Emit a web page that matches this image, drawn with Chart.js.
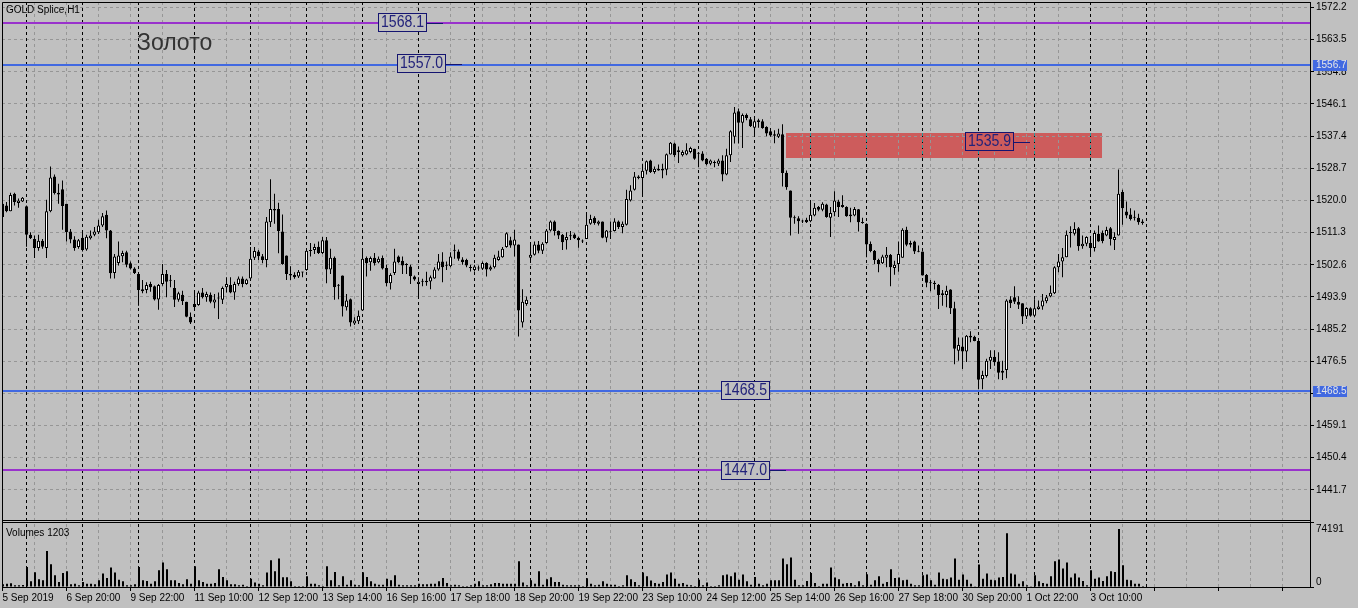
<!DOCTYPE html>
<html>
<head>
<meta charset="utf-8">
<script src="https://cdn.jsdelivr.net/npm/chart.js@4.4.1/dist/chart.umd.min.js"></script>
<style>
  html, body { margin: 0; padding: 0; background: #c0c0c0; }
  #wrap { width: 1358px; height: 608px; }
</style>
</head>
<body>
<div id="wrap"><canvas id="gold" width="1358" height="608"></canvas></div>
<script>
// GOLD Splice, H1 - one value per bar, bar index = position on the time axis
const opens = [
  1519.1,1518.6,1517.1,1521.8,1519.3,1519.7,1518.4,1510.7,1509.6,1507.1,1509.1,1507.1,1517.1,1526.5,1522.1,1523.0,1519.1,1511.6,1509.4,1507.4,
  1509.9,1506.7,1509.8,1510.7,1511.4,1513.2,1516.1,1511.9,1500.4,1503.1,1504.9,1506.0,1503.0,1501.6,1500.1,1496.0,1495.8,1497.4,1496.8,1493.2,
  1497.4,1500.1,1498.3,1496.3,1493.1,1494.5,1492.6,1488.5,1492.0,1491.7,1495.1,1493.8,1494.5,1492.4,1493.5,1493.1,1496.5,1497.1,1495.1,1497.4,
  1498.9,1497.4,1498.9,1504.5,1506.2,1504.9,1503.9,1514.1,1517.7,1517.7,1511.6,1505.1,1500.1,1499.9,1499.4,1500.6,1501.2,1506.3,1506.6,1507.5,
  1505.8,1509.2,1501.3,1504.5,1497.0,1499.7,1491.1,1493.3,1486.7,1487.3,1490.2,1504.4,1503.3,1504.5,1503.3,1504.4,1501.7,1497.6,1500.4,1504.8,
  1503.7,1502.6,1502.1,1499.4,1497.4,1498.0,1497.9,1498.1,1498.9,1501.3,1503.5,1502.4,1502.2,1506.4,1506.2,1504.0,1503.9,1501.8,1501.2,1501.6,
  1501.5,1503.1,1501.3,1501.9,1503.9,1504.6,1507.4,1509.2,1507.8,1508.1,1487.0,1492.0,1504.5,1505.3,1508.1,1506.4,1508.5,1511.9,1514.3,1511.7,
  1510.7,1509.2,1510.3,1510.8,1509.9,1509.0,1509.6,1513.7,1515.3,1513.7,1514.3,1509.9,1511.6,1511.7,1514.3,1512.8,1513.4,1520.0,1522.9,1526.1,
  1526.1,1528.0,1530.8,1527.7,1528.6,1528.6,1528.3,1532.4,1535.4,1533.6,1532.2,1532.4,1533.1,1534.0,1532.7,1532.7,1531.3,1529.9,1530.2,1529.9,
  1530.8,1527.0,1532.2,1537.2,1544.1,1541.0,1543.1,1542.0,1539.7,1541.7,1541.4,1539.9,1538.7,1537.9,1537.2,1537.9,1527.5,1522.7,1515.3,1515.2,
  1514.4,1514.8,1514.4,1515.9,1518.2,1517.5,1518.9,1515.3,1516.8,1519.7,1518.2,1518.2,1516.2,1515.9,1517.6,1513.9,1513.7,1508.2,1506.4,1503.9,
  1503.0,1504.5,1505.3,1501.7,1502.8,1504.5,1512.1,1508.0,1508.9,1506.2,1506.2,1499.8,1497.7,1497.7,1497.2,1494.9,1494.4,1495.9,1490.8,1479.3,
  1480.5,1479.1,1482.9,1483.1,1482.0,1471.6,1472.5,1476.6,1477.7,1476.4,1473.4,1474.1,1493.2,1493.8,1492.6,1492.2,1488.6,1490.8,1488.8,1490.6,
  1491.3,1492.7,1494.0,1494.9,1501.9,1503.5,1504.6,1511.2,1511.0,1512.5,1507.6,1508.3,1508.5,1507.1,1511.0,1511.2,1510.5,1512.5,1509.3,1510.5,
  1522.3,1517.0,1516.2,1515.3,1515.3,1514.3
];
const highs = [
  1519.6,1519.6,1522.1,1522.1,1520.5,1520.9,1518.6,1511.4,1510.5,1510.7,1509.6,1520.2,1529.2,1527.0,1524.5,1525.4,1519.1,1512.3,1510.3,1509.6,
  1511.9,1510.7,1511.9,1512.8,1514.8,1516.6,1517.3,1512.0,1505.5,1508.9,1506.4,1506.4,1503.5,1501.9,1500.3,1498.5,1497.9,1498.0,1497.0,1497.4,
  1502.8,1501.2,1499.8,1498.5,1495.3,1495.6,1492.6,1489.7,1495.3,1495.6,1496.3,1495.3,1495.1,1494.7,1495.1,1496.7,1499.2,1499.2,1498.0,1499.4,
  1499.4,1498.8,1507.4,1507.4,1506.6,1505.5,1515.5,1525.7,1521.8,1519.4,1516.2,1505.1,1502.2,1500.6,1501.2,1500.7,1506.6,1508.5,1508.3,1508.9,
  1510.1,1510.1,1506.9,1504.8,1497.4,1499.7,1494.7,1493.5,1488.4,1490.2,1506.9,1504.8,1504.8,1505.8,1504.8,1505.1,1502.6,1500.3,1506.9,1505.1,
  1504.8,1503.0,1502.6,1499.7,1499.2,1498.8,1500.7,1499.7,1501.9,1505.5,1506.0,1503.5,1506.0,1508.1,1506.7,1504.6,1504.2,1502.6,1502.6,1502.4,
  1503.5,1503.3,1502.4,1505.3,1506.4,1507.4,1511.4,1510.2,1512.1,1508.1,1496.0,1494.0,1508.7,1508.9,1509.0,1508.7,1512.3,1514.6,1514.6,1511.9,
  1510.9,1511.4,1511.7,1511.1,1510.2,1509.4,1516.7,1516.1,1515.7,1514.6,1514.3,1512.0,1514.3,1515.2,1514.6,1514.3,1522.9,1524.1,1527.7,1526.8,
  1529.9,1530.8,1531.0,1529.2,1529.7,1529.9,1532.7,1535.8,1535.6,1534.6,1533.6,1535.5,1534.5,1534.0,1533.1,1533.3,1531.5,1531.1,1530.8,1531.3,
  1532.2,1534.0,1539.0,1545.3,1544.9,1543.5,1543.5,1542.6,1542.1,1542.1,1542.0,1540.1,1539.6,1539.0,1539.4,1540.6,1528.1,1522.7,1515.9,1515.7,
  1514.8,1515.3,1520.0,1519.3,1518.5,1519.5,1519.1,1518.2,1522.5,1520.2,1521.4,1518.4,1518.0,1518.2,1517.7,1515.3,1513.8,1508.9,1506.6,1504.2,
  1505.3,1507.4,1505.5,1503.7,1508.9,1512.5,1512.9,1509.1,1509.1,1507.8,1506.2,1500.1,1498.5,1498.3,1497.4,1495.8,1496.9,1496.0,1492.6,1482.9,
  1482.9,1483.6,1484.6,1483.4,1482.0,1473.9,1477.2,1479.5,1479.5,1478.9,1476.6,1493.3,1494.1,1496.8,1494.1,1492.2,1491.1,1491.1,1493.3,1492.9,
  1494.7,1494.4,1497.0,1502.2,1505.5,1507.1,1511.9,1513.0,1514.1,1512.8,1510.5,1510.3,1509.9,1511.9,1513.2,1511.9,1512.9,1512.8,1511.4,1528.4,
  1522.9,1519.7,1517.9,1517.3,1516.4,1514.9
];
const lows = [
  1515.0,1516.8,1517.1,1518.6,1518.0,1519.6,1507.5,1509.6,1504.4,1506.4,1506.9,1504.4,1516.8,1521.6,1519.1,1512.1,1508.9,1508.4,1506.4,1506.9,
  1506.2,1506.4,1509.4,1510.3,1510.9,1512.8,1509.8,1498.9,1498.9,1502.4,1503.3,1501.9,1501.3,1500.1,1491.5,1494.9,1494.9,1495.3,1492.9,1490.4,
  1496.9,1493.8,1496.5,1491.2,1492.6,1491.7,1488.4,1486.6,1490.2,1491.5,1493.5,1492.6,1492.2,1490.8,1487.9,1492.0,1495.1,1494.9,1493.1,1496.9,
  1496.5,1497.2,1498.3,1503.9,1503.9,1503.0,1501.9,1512.8,1513.7,1505.7,1502.6,1498.5,1498.5,1498.8,1499.0,1499.2,1501.0,1504.8,1505.5,1505.5,
  1505.5,1497.6,1500.1,1493.1,1493.3,1488.6,1490.2,1485.9,1486.3,1486.6,1490.2,1499.4,1501.0,1502.4,1503.0,1501.3,1496.8,1495.9,1499.8,1503.0,
  1500.1,1500.1,1497.4,1498.3,1494.0,1496.8,1496.9,1496.0,1498.8,1501.0,1497.9,1501.2,1501.9,1504.2,1503.7,1502.6,1501.9,1500.8,1500.8,1501.0,
  1501.2,1499.4,1501.0,1501.6,1503.7,1504.5,1507.2,1507.2,1504.8,1483.2,1485.6,1491.5,1503.1,1505.1,1505.7,1505.5,1508.3,1511.6,1510.5,1509.6,
  1506.6,1506.7,1509.3,1509.6,1507.2,1508.5,1509.6,1513.4,1513.4,1513.2,1509.8,1508.7,1509.6,1511.6,1512.3,1511.1,1513.2,1519.7,1522.7,1525.7,
  1520.9,1527.0,1527.4,1527.2,1528.0,1526.0,1526.8,1532.4,1531.7,1530.1,1531.9,1532.2,1532.8,1531.0,1529.0,1530.6,1529.5,1529.5,1529.0,1529.3,
  1525.2,1526.8,1530.4,1535.4,1535.4,1534.2,1541.7,1539.9,1537.4,1539.7,1539.4,1537.4,1537.2,1535.5,1536.9,1523.8,1522.9,1510.5,1513.7,1511.0,
  1513.9,1513.9,1514.1,1515.7,1517.1,1517.1,1515.3,1510.1,1515.7,1515.5,1518.0,1515.6,1514.1,1515.7,1511.6,1513.7,1504.6,1506.0,1502.8,1500.6,
  1502.8,1501.9,1496.8,1499.9,1500.7,1504.5,1507.6,1507.3,1505.5,1506.0,1499.7,1496.5,1495.4,1495.9,1490.6,1491.5,1491.1,1489.3,1475.7,1476.6,
  1474.4,1476.3,1481.6,1481.9,1468.9,1468.9,1472.1,1474.4,1475.3,1471.6,1471.4,1471.9,1490.9,1492.0,1490.6,1486.6,1487.9,1488.5,1488.4,1490.4,
  1490.4,1492.2,1493.8,1494.7,1500.6,1499.2,1504.6,1507.3,1510.5,1506.4,1506.9,1507.6,1504.8,1506.2,1508.8,1508.4,1510.3,1507.8,1506.6,1510.5,
  1513.4,1515.2,1514.6,1514.6,1513.4,1513.4
];
const closes = [
  1515.5,1517.1,1521.5,1519.6,1520.0,1520.7,1510.7,1509.8,1507.1,1509.1,1507.5,1517.1,1526.2,1522.0,1521.6,1518.5,1511.4,1509.4,1507.1,1509.2,
  1506.6,1510.2,1510.5,1511.6,1513.2,1515.7,1511.9,1500.3,1504.8,1505.1,1505.8,1502.6,1501.6,1500.4,1495.8,1495.4,1497.1,1496.5,1493.2,1497.1,
  1500.1,1498.0,1498.3,1493.1,1494.9,1492.7,1488.5,1487.0,1491.2,1495.1,1493.8,1494.7,1492.6,1493.2,1493.5,1496.3,1497.4,1495.1,1497.4,1498.9,
  1497.4,1498.6,1504.2,1506.3,1504.9,1503.9,1514.3,1517.7,1517.3,1511.7,1502.8,1500.1,1499.7,1499.2,1500.7,1500.5,1506.4,1506.6,1507.4,1505.8,
  1509.2,1501.3,1504.5,1496.5,1496.9,1491.3,1492.9,1487.0,1487.5,1488.8,1504.2,1503.0,1504.4,1503.0,1504.2,1501.6,1497.6,1499.8,1503.5,1503.3,
  1502.4,1502.5,1499.5,1498.6,1498.0,1498.1,1498.3,1499.2,1501.3,1503.5,1501.9,1502.3,1504.8,1506.5,1504.2,1503.3,1502.4,1501.7,1502.1,1501.7,
  1503.1,1501.3,1501.9,1504.5,1504.8,1506.9,1511.1,1507.8,1509.4,1490.2,1492.6,1493.1,1505.3,1508.1,1506.4,1508.3,1511.9,1514.3,1511.7,1510.5,
  1508.7,1510.1,1510.4,1509.8,1509.2,1508.9,1513.4,1515.0,1513.9,1514.3,1509.9,1511.9,1511.5,1514.3,1512.8,1513.7,1520.4,1522.7,1526.5,1526.5,
  1528.0,1530.6,1527.7,1528.6,1528.1,1528.1,1532.5,1535.6,1532.2,1533.1,1533.1,1533.6,1534.2,1531.3,1532.6,1530.8,1529.8,1530.8,1530.1,1530.8,
  1527.0,1532.2,1538.7,1543.8,1541.0,1543.1,1542.3,1540.1,1541.4,1541.2,1539.6,1538.1,1537.6,1537.5,1538.1,1527.4,1523.6,1515.3,1515.2,1514.4,
  1514.3,1514.1,1516.1,1518.0,1517.5,1519.1,1515.5,1516.6,1520.0,1518.2,1518.8,1515.7,1515.7,1517.7,1514.1,1513.9,1508.1,1506.3,1503.9,1502.8,
  1504.8,1505.3,1501.9,1502.6,1505.5,1512.1,1508.0,1508.5,1506.2,1506.1,1499.7,1497.7,1497.6,1497.4,1494.4,1494.4,1495.6,1490.8,1479.9,1480.9,
  1479.1,1483.4,1483.4,1482.0,1471.5,1472.8,1476.6,1477.7,1476.2,1473.4,1473.9,1492.9,1492.2,1492.6,1491.8,1488.6,1490.9,1488.8,1490.8,1491.3,
  1492.9,1493.8,1495.0,1501.9,1503.5,1504.6,1510.7,1511.3,1512.3,1507.6,1508.3,1510.1,1507.1,1511.2,1508.9,1509.0,1512.0,1509.6,1510.1,1521.8,
  1517.9,1515.9,1515.0,1515.3,1514.1,1513.9
];
const volumes = [
  3400,4300,4700,2100,2100,2600,25700,7300,18900,9900,8600,45900,29200,15000,6400,18000,20200,3400,4300,2100,
  6400,4300,4300,3400,8600,17200,11600,24900,18400,9400,7300,2100,2100,3400,25700,8600,7700,4300,7300,21500,
  31300,22700,8600,8600,5100,3400,9900,4300,26600,8600,6400,4300,4300,5100,22700,12900,8600,3400,3400,2100,
  3000,1300,10700,5600,4300,2100,18400,34300,20200,36500,12400,12400,7300,1300,1300,1300,13700,4300,4300,2100,
  1300,26600,8600,19300,2100,13700,3000,8600,3000,2100,18900,12900,7300,4300,3000,3000,10700,8600,15000,3000,
  2100,2100,2100,2100,4300,3400,3400,4300,4300,7300,11600,5100,2100,3000,2100,1300,1300,2100,4300,7300,
  2100,2100,3400,5100,5100,4300,4300,4300,4300,33000,5600,2100,8600,4300,20200,3000,9900,12400,6400,6400,
  3000,2100,2100,2100,2100,1300,11200,4300,2100,3000,7300,4300,3000,3000,1300,2100,15000,9900,6400,2100,
  18400,13700,8200,5100,4300,6400,15900,18400,10700,4300,5100,3000,2100,1300,9400,2100,5600,1300,1300,2100,
  15000,15900,13700,18400,9400,15900,7300,3000,12900,4300,2100,4300,8600,8600,8600,36500,29200,37800,9400,2100,
  2100,7700,18000,5100,1300,4300,4300,24900,12000,9900,4300,5100,5100,2100,7300,2100,16300,3000,8600,13700,
  4300,6400,22700,11600,12000,8600,9400,4300,2100,2100,15000,15900,8600,3000,18400,10700,9900,12000,36500,9400,
  15900,9400,4300,900,28700,10700,17200,9400,8600,12000,12900,68600,17200,15900,4300,7300,2100,900,15000,7300,
  5100,4300,13700,33000,35200,23600,31300,12000,17200,12000,7700,2100,21500,10700,12000,7700,13700,20200,19300,74191,
  27900,9400,8600,4300,4300,1203
];

// axis labels
const timeLabels = ['5 Sep 2019','6 Sep 20:00','9 Sep 22:00','11 Sep 10:00','12 Sep 12:00','13 Sep 14:00',
  '16 Sep 16:00','17 Sep 18:00','18 Sep 20:00','19 Sep 22:00','23 Sep 10:00','24 Sep 12:00',
  '25 Sep 14:00','26 Sep 16:00','27 Sep 18:00','30 Sep 20:00','1 Oct 22:00','3 Oct 10:00'];
const yTicks = [1441.7,1450.4,1459.1,1467.8,1476.5,1485.2,1493.9,1502.6,1511.3,1520.0,1528.7,1537.4,1546.1,1554.8,1563.5,1572.2];
const dayStarts = [6,20,34,48,62,76,90,104,118,132,146,160,174,188,202,216,230,244,258,272,286];

// chart objects
const levelPrices = [1568.1, 1556.7, 1468.5, 1447.0];
const levelColors = ['#9932cc', '#4169e1', '#4169e1', '#9932cc'];
const badgePrices = [1556.7, 1468.5];
const notePrices = [1568.1, 1557.0, 1535.9, 1468.5, 1447.0];
const noteBars   = [93.8, 98.7, 240.7, 179.7, 179.7];
const noteTails  = [true, true, true, false, true];
const zoneBars = [195.9, 274.95];
const zonePrices = [1531.5, 1538.2];

const FONT = '"Liberation Sans", Arial, sans-serif';
const xMin = -0.125, xMax = -0.125 + 1308 / 4;
const yMin = 1433.0, yMax = 1573.69;
const volMax = 83145;

const bars = opens.map((o, i) => i);
const gridBars = [];
for (let v = 0; v <= 320; v += 8) gridBars.push(v);

function noPad(s) {
  s.paddingTop = 0; s.paddingBottom = 0; s.paddingLeft = 0; s.paddingRight = 0;
}

function narrowText(ctx, txt, cx, cy, size, sx, color) {
  ctx.save();
  ctx.translate(cx, cy);
  ctx.scale(sx, 1);
  ctx.font = size + 'px ' + FONT;
  ctx.fillStyle = color;
  ctx.textAlign = 'center';
  ctx.textBaseline = 'middle';
  ctx.fillText(txt, 0, 0);
  ctx.restore();
}

const mtPlugin = {
  id: 'mt',
  beforeDraw(chart) {
    const {ctx, scales: {x, y}} = chart;
    // прямоугольник зоны
    const x1 = Math.round(x.getPixelForValue(zoneBars[0]));
    const x2 = Math.round(x.getPixelForValue(zoneBars[1]));
    const y1 = Math.round(y.getPixelForValue(zonePrices[1]));
    const y2 = Math.round(y.getPixelForValue(zonePrices[0]));
    ctx.save();
    ctx.fillStyle = '#cd5c5c';
    ctx.fillRect(x1, y1, x2 - x1, y2 - y1);
    ctx.restore();
  },
  beforeDatasetsDraw(chart) {
    const {ctx, chartArea: a, scales: {x, y}} = chart;
    const zx1 = x.getPixelForValue(zoneBars[0]), zx2 = x.getPixelForValue(zoneBars[1]);
    const zy1 = Math.round(y.getPixelForValue(zonePrices[1]));
    const zy2 = Math.round(y.getPixelForValue(zonePrices[0]));
    ctx.save();
    // period separators
    ctx.lineWidth = 1;
    ctx.setLineDash([3, 3]);
    dayStarts.forEach(b => {
      const px = Math.round(x.getPixelForValue(b) - 0.5) + 0.5;
      ctx.strokeStyle = '#000';
      ctx.beginPath();
      ctx.moveTo(px, a.top);
      ctx.lineTo(px, a.bottom);
      ctx.stroke();
      if (px > zx1 && px < zx2) {
        // over the filled zone the separator shows inverted
        ctx.strokeStyle = '#2a9a9a';
        ctx.beginPath();
        ctx.moveTo(px, zy1);
        ctx.lineTo(px, zy2);
        ctx.stroke();
      }
    });
    ctx.setLineDash([]);
    // horizontal levels
    ctx.lineWidth = 2;
    levelPrices.forEach((p, k) => {
      const py = Math.round(y.getPixelForValue(p));
      ctx.strokeStyle = levelColors[k];
      ctx.beginPath();
      ctx.moveTo(a.left, py);
      ctx.lineTo(a.right, py);
      ctx.stroke();
    });
    ctx.restore();
  },
  afterDraw(chart) {
    const {ctx, chartArea: a, scales: {x, y}} = chart;
    ctx.save();
    // price notes in boxes
    const zx1 = x.getPixelForValue(zoneBars[0]), zx2 = x.getPixelForValue(zoneBars[1]);
    const zy1 = y.getPixelForValue(zonePrices[1]), zy2 = y.getPixelForValue(zonePrices[0]);
    notePrices.forEach((p, k) => {
      const bx = Math.round(x.getPixelForValue(noteBars[k]));
      const cy = y.getPixelForValue(p);
      const by = Math.round(cy - 9.5);
      const inZone = bx > zx1 && bx < zx2 && cy > zy1 && cy < zy2;
      ctx.fillStyle = inZone ? '#cd5c5c' : '#c0c0c0';
      ctx.fillRect(bx, by, 49, 19);
      ctx.strokeStyle = '#141470';
      ctx.lineWidth = 1;
      ctx.strokeRect(bx + 0.5, by + 0.5, 48, 18);
      if (noteTails[k]) {
        ctx.beginPath();
        ctx.moveTo(bx + 49, Math.round(cy) + 0.5);
        ctx.lineTo(bx + 65, Math.round(cy) + 0.5);
        ctx.stroke();
      }
      narrowText(ctx, p.toFixed(1), bx + 24.5, by + 10, 16, 0.88, '#22227a');
    });

    // panel frames
    ctx.strokeStyle = '#000';
    ctx.lineWidth = 1;
    ctx.beginPath();
    ctx.moveTo(a.left + 0.5, a.bottom);
    ctx.lineTo(a.left + 0.5, a.top + 0.5);
    ctx.lineTo(a.right, a.top + 0.5);
    ctx.moveTo(a.left, 520.5);
    ctx.lineTo(a.right, 520.5);
    ctx.moveTo(a.left, 522.5);
    ctx.lineTo(a.right, 522.5);
    ctx.stroke();

    // texts
    ctx.fillStyle = '#000';
    ctx.font = '10px ' + FONT;
    ctx.textBaseline = 'alphabetic';
    ctx.textAlign = 'left';
    ctx.fillText('GOLD Splice,H1', 6, 13);
    ctx.fillText('Volumes ' + volumes[volumes.length - 1], 6, 536);
    ctx.fillText('74191', a.right + 6, 532);
    ctx.fillText('0', a.right + 6, 585);
    ctx.font = '23px ' + FONT;
    ctx.fillStyle = '#333';
    ctx.fillText('Золото', 137, 50);

    // price badges on the right axis
    badgePrices.forEach(p => {
      const py = Math.round(y.getPixelForValue(p));
      ctx.fillStyle = '#4169e1';
      ctx.fillRect(a.right + 3, py - 5, 34, 11);
      ctx.fillStyle = '#e6e6e6';
      ctx.font = '10px ' + FONT;
      ctx.textBaseline = 'middle';
      ctx.fillText(p.toFixed(1), a.right + 6, py + 0.5);
    });
    ctx.restore();
  },
  beforeDatasetDraw(chart, args) {
    if (args.index === 2) { chart.ctx.save(); chart.ctx.translate(0.5, 0); }
  },
  afterDatasetDraw(chart, args) {
    if (args.index === 2) chart.ctx.restore();
  }
};

const chart = new Chart(document.getElementById('gold'), {
  type: 'bar',
  data: {
    datasets: [
      {
        label: 'wicks',
        data: bars.map(i => ({x: i, y: [lows[i], highs[i]]})),
        yAxisID: 'y',
        barThickness: 1,
        backgroundColor: '#000',
        borderWidth: 0,
        inflateAmount: 0,
        grouped: false,
        order: 2
      },
      {
        label: 'bodies',
        data: bars.map(i => ({x: i, y: [Math.min(opens[i], closes[i]), Math.max(opens[i], closes[i])]})),
        yAxisID: 'y',
        barThickness: 3,
        backgroundColor: bars.map(i => closes[i] >= opens[i] ? '#ffffff' : '#000000'),
        borderColor: '#000',
        borderWidth: 1,
        borderSkipped: false,
        minBarLength: 1,
        inflateAmount: 0,
        grouped: false,
        order: 1
      },
      {
        label: 'Volumes',
        data: bars.map(i => ({x: i, y: volumes[i]})),
        yAxisID: 'yv',
        barThickness: 2,
        backgroundColor: '#000',
        borderWidth: 0,
        inflateAmount: 0,
        grouped: false,
        order: 3
      }
    ]
  },
  options: {
    responsive: false,
    animation: false,
    events: [],
    layout: { padding: { top: 2, left: 2, right: 0, bottom: 0 } },
    plugins: { legend: { display: false }, tooltip: { enabled: false } },
    scales: {
      x: {
        type: 'linear',
        offset: false,
        min: xMin,
        max: xMax,
        afterBuildTicks: s => { s.ticks = gridBars.map(v => ({value: v})); },
        afterFit: s => { s.height = 21; noPad(s); },
        ticks: {
          autoSkip: false,
          maxRotation: 0,
          align: 'start',
          padding: 1,
          color: '#000',
          font: { family: FONT, size: 10 },
          callback: v => (v % 16 === 0 && timeLabels[v / 16]) ? timeLabels[v / 16] : ''
        },
        grid: {
          offset: false,
          color: '#969696',
          tickLength: 4,
          tickColor: c => (c.tick && c.tick.value % 16 === 0) ? '#000' : 'rgba(0,0,0,0)'
        },
        border: { display: true, color: '#000', dash: [3, 3] }
      },
      y: {
        position: 'right',
        stack: 'panes',
        stackWeight: 520,
        min: yMin,
        max: yMax,
        afterBuildTicks: s => { s.ticks = yTicks.map(v => ({value: v})); },
        afterFit: s => { s.width = 48; noPad(s); },
        ticks: {
          autoSkip: false,
          padding: 2,
          color: '#000',
          font: { family: FONT, size: 10 },
          callback: v => v.toFixed(1)
        },
        grid: { color: '#969696', tickLength: 4, tickColor: '#000' },
        border: { display: true, color: '#000', dash: [3, 3] }
      },
      yv: {
        position: 'right',
        stack: 'panes',
        stackWeight: 65,
        min: 0,
        max: volMax,
        afterBuildTicks: s => { s.ticks = [{value: 0}, {value: volMax}]; },
        afterFit: s => { s.width = 48; noPad(s); },
        ticks: { display: false },
        grid: { drawOnChartArea: false, tickLength: 4, tickColor: '#000' },
        border: { display: true, color: '#000' }
      }
    }
  },
  plugins: [mtPlugin]
});
</script>
</body>
</html>
